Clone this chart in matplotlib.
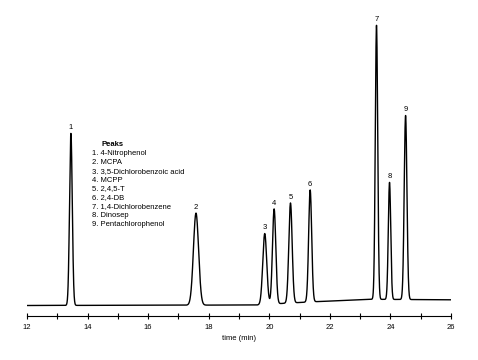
import numpy as np
import matplotlib
matplotlib.use("Agg")
import matplotlib.pyplot as plt
from matplotlib.ticker import MultipleLocator

plt.rcParams['font.family'] = ['Liberation Sans Narrow', 'Liberation Sans', 'DejaVu Sans']

# peak table
peak_labels = ['1', '2', '3', '4', '5', '6', '7', '8', '9']
peak_names = ['4-Nitrophenol', 'MCPA', '3,5-Dichlorobenzoic acid', 'MCPP', '2,4,5-T',
              '2,4-DB', '1,4-Dichlorobenzene', 'Dinosep', 'Pentachlorophenol']
retention = [13.45, 17.58, 19.85, 20.16, 20.70, 21.35, 23.54, 23.97, 24.50]
heights = [172, 92, 71, 95, 100, 112, 274, 117, 184]
widths = [0.045, 0.085, 0.065, 0.055, 0.055, 0.05, 0.04, 0.04, 0.045]

# baseline drift
base_t = [12.0, 19.6, 20.5, 21.5, 23.4, 26.0]
base_y = [-0.5, 0.0, 1.7, 3.3, 5.7, 5.2]

t = np.linspace(12, 26, 6000)
signal = np.interp(t, base_t, base_y)
for rt, h, w in zip(retention, heights, widths):
    signal = signal + h * np.exp(-0.5 * ((t - rt) / w) ** 2)

fig = plt.figure(figsize=(4.78, 3.6), dpi=100)
ax = fig.add_axes([27 / 478, 44 / 360, 424 / 478, 306 / 360])
ax.plot(t, signal, color='black', lw=1.0)

# number above each peak
for lab, rt in zip(peak_labels, retention):
    apex = signal[np.argmin(np.abs(t - rt))]
    ax.annotate(lab, (rt, apex), xytext=(0, 1.5), textcoords='offset points',
                ha='center', va='bottom', fontsize=5.5)

# peak list
fig.text(101 / 478, 1 - 145 / 360, 'Peaks', fontsize=5.5, fontweight='bold', va='center')
for i, (lab, name) in enumerate(zip(peak_labels, peak_names)):
    fig.text(92 / 478, 1 - (153.5 + i * 8.85) / 360, f'{lab}. {name}', fontsize=5.5, va='center')

ax.set_xlim(12, 26)
ax.set_ylim(-11, 295)
ax.xaxis.set_major_locator(MultipleLocator(2))
ax.xaxis.set_minor_locator(MultipleLocator(1))
ax.tick_params(axis='x', which='both', direction='inout', length=4, width=0.8, labelsize=5.5, pad=4)
ax.set_xlabel('time (min)', fontsize=5.5, labelpad=3)
ax.set_yticks([])
for side in ['left', 'right', 'top']:
    ax.spines[side].set_visible(False)
ax.spines['bottom'].set_linewidth(0.8)

fig.savefig('out.png', dpi=100)
